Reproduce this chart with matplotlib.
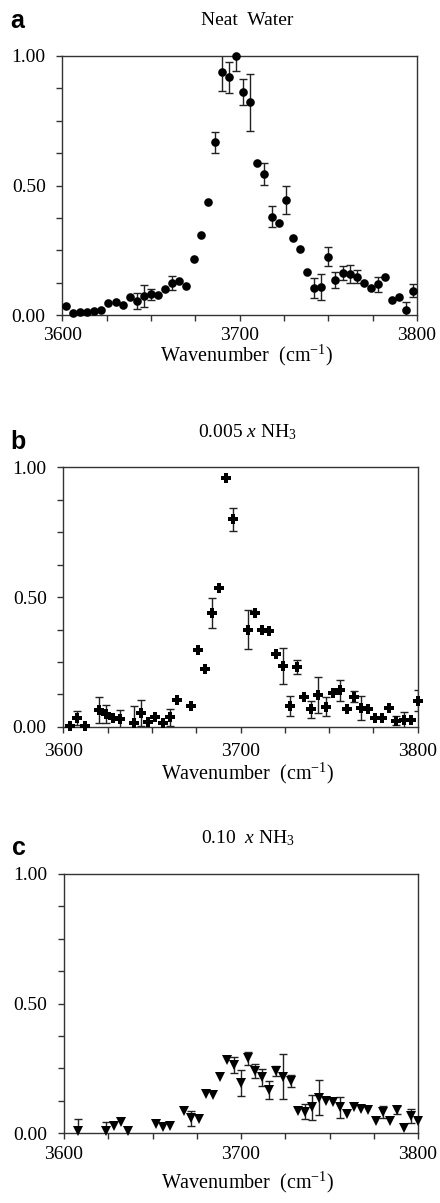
import matplotlib
matplotlib.use("Agg")
import matplotlib.pyplot as plt
import numpy as np
from matplotlib.ticker import FixedLocator, FormatStrFormatter

plt.rcParams['font.family'] = ['Liberation Serif', 'DejaVu Serif']
plt.rcParams['mathtext.fontset'] = 'custom'
plt.rcParams['mathtext.rm'] = 'Liberation Serif'
plt.rcParams['mathtext.it'] = 'Liberation Serif:italic'

# ---------------- data ----------------
# panel a: neat water
x_a = [3602, 3606, 3610, 3614, 3618, 3622, 3626, 3630, 3634, 3638,
       3642, 3646, 3650, 3654, 3658, 3662, 3666, 3670, 3674, 3678,
       3682, 3686, 3690, 3694, 3698, 3702, 3706, 3710, 3714, 3718,
       3722, 3726, 3730, 3734, 3738, 3742, 3746, 3750, 3754, 3758,
       3762, 3766, 3770, 3774, 3778, 3782, 3786, 3790, 3794, 3798]
y_a = [0.035, 0.006, 0.013, 0.013, 0.015, 0.019, 0.045, 0.050, 0.039, 0.070,
       0.055, 0.073, 0.080, 0.077, 0.099, 0.125, 0.133, 0.113, 0.215, 0.309,
       0.435, 0.667, 0.940, 0.918, 1.000, 0.862, 0.821, 0.588, 0.544, 0.380,
       0.356, 0.444, 0.299, 0.255, 0.165, 0.103, 0.107, 0.225, 0.135, 0.163,
       0.158, 0.148, 0.125, 0.106, 0.118, 0.148, 0.058, 0.071, 0.019, 0.093]
e_a = [0, 0, 0, 0, 0, 0, 0, 0, 0, 0,
       0.030, 0.043, 0.022, 0, 0, 0.027, 0, 0, 0, 0,
       0, 0.040, 0.075, 0.060, 0.058, 0.050, 0.110, 0, 0.042, 0.042,
       0, 0.054, 0, 0, 0, 0.039, 0.050, 0.037, 0.030, 0.027,
       0.035, 0.024, 0, 0, 0.030, 0, 0, 0, 0.030, 0.025]

# panel b: 0.005 x NH3
x_b = [3604, 3608, 3612, 3620, 3624, 3628, 3632, 3640, 3644, 3648,
       3652, 3656, 3660, 3664, 3672, 3676, 3680, 3684, 3688, 3692,
       3696, 3704, 3708, 3712, 3716, 3720, 3724, 3728, 3732, 3736,
       3740, 3744, 3748, 3752, 3756, 3760, 3764, 3768, 3772, 3776,
       3780, 3784, 3788, 3792, 3796, 3800]
y_b = [0.003, 0.032, 0.004, 0.064, 0.048, 0.032, 0.028, 0.013, 0.054, 0.018,
       0.039, 0.015, 0.036, 0.103, 0.080, 0.296, 0.222, 0.440, 0.537, 0.958,
       0.800, 0.375, 0.437, 0.373, 0.370, 0.279, 0.235, 0.080, 0.231, 0.116,
       0.067, 0.122, 0.077, 0.129, 0.141, 0.067, 0.116, 0.071, 0.067, 0.032,
       0.032, 0.071, 0.023, 0.026, 0.026, 0.100]
e_b = [0, 0.027, 0, 0.050, 0.035, 0, 0.035, 0.068, 0.050, 0,
       0, 0, 0.032, 0, 0, 0, 0, 0.058, 0, 0,
       0.045, 0.075, 0, 0, 0, 0, 0.070, 0.040, 0.027, 0,
       0.032, 0.068, 0.037, 0, 0.040, 0, 0.020, 0.046, 0, 0,
       0, 0, 0.018, 0.030, 0, 0.040]

# panel c: 0.10 x NH3
x_c = [3608, 3624, 3628, 3632, 3636, 3652, 3656, 3660, 3668, 3672,
       3676, 3680, 3684, 3688, 3692, 3696, 3700, 3704, 3708, 3712,
       3716, 3720, 3724, 3728, 3732, 3736, 3740, 3744, 3748, 3752,
       3756, 3760, 3764, 3768, 3772, 3776, 3780, 3784, 3788, 3792,
       3796, 3800]
y_c = [0.010, 0.009, 0.028, 0.042, 0.010, 0.036, 0.023, 0.030, 0.087, 0.058,
       0.055, 0.150, 0.148, 0.219, 0.283, 0.264, 0.195, 0.289, 0.240, 0.216,
       0.167, 0.240, 0.219, 0.202, 0.087, 0.084, 0.100, 0.138, 0.125, 0.120,
       0.100, 0.075, 0.103, 0.094, 0.090, 0.048, 0.081, 0.048, 0.090, 0.022,
       0.067, 0.049]
e_c = [0.045, 0.035, 0, 0, 0, 0, 0, 0, 0, 0.028,
       0, 0, 0, 0, 0, 0.032, 0.050, 0.024, 0.028, 0.032,
       0.036, 0.018, 0.086, 0.022, 0, 0.030, 0.047, 0.068, 0, 0,
       0.040, 0, 0, 0, 0, 0, 0.023, 0, 0.017, 0,
       0.026, 0]

titles = ["Neat  Water", "0.005 $x$ NH$_3$", "0.10  $x$ NH$_3$"]
letters = ["a", "b", "c"]
xlabel = "Wavenumber  (cm$^{-1}$)"
xticks_major = [3600, 3700, 3800]
xticks_minor = [3625, 3650, 3675, 3725, 3750, 3775]
yticks_major = [0.0, 0.5, 1.0]
yticks_minor = [0.125, 0.25, 0.375, 0.625, 0.75, 0.875]

# ---------------- layout ----------------
W, H = 440, 1203
fig = plt.figure(figsize=(W / 100, H / 100), dpi=100)

def rect(l, r, t, b):
    return [l / W, 1 - b / H, (r - l) / W, (b - t) / H]

panels = [
    dict(rect=rect(62.3, 417.0, 56.0, 315.0), x=x_a, y=y_a, e=e_a,
         marker='o', ms=6.2, pad=5.0, xlab_y=-0.155, let_y=1.135),
    dict(rect=rect(63.3, 417.7, 467.5, 726.7), x=x_b, y=y_b, e=e_b,
         marker='P', ms=6.5, pad=8.0, xlab_y=-0.18, let_y=1.10),
    dict(rect=rect(64.0, 418.0, 874.0, 1133.3), x=x_c, y=y_c, e=e_c,
         marker='v', ms=6.8, pad=5.5, xlab_y=-0.19, let_y=1.10),
]

spine_col = '#333333'
for i, p in enumerate(panels):
    ax = fig.add_axes(p['rect'])
    x = np.array(p['x'], float)
    y = np.array(p['y'], float)
    e = np.array(p['e'], float)
    m = e > 0
    ax.errorbar(x[m], y[m], yerr=e[m], fmt='none', ecolor='#222222',
                elinewidth=1.0, capsize=3.0, capthick=1.0, zorder=2,
                clip_on=True)
    ax.plot(x, y, linestyle='none', marker=p['marker'], ms=p['ms'],
            color='black', mec='black', mew=0.0, zorder=3, clip_on=False)
    ax.set_xlim(3600, 3800)
    ax.set_ylim(0, 1.0)
    ax.xaxis.set_major_locator(FixedLocator(xticks_major))
    ax.xaxis.set_minor_locator(FixedLocator(xticks_minor))
    ax.yaxis.set_major_locator(FixedLocator(yticks_major))
    ax.yaxis.set_minor_locator(FixedLocator(yticks_minor))
    ax.yaxis.set_major_formatter(FormatStrFormatter('%.2f'))
    ax.tick_params(which='both', direction='out', length=4, width=1.0,
                   color=spine_col, top=False, right=False)
    ax.tick_params(axis='x', which='major', labelsize=14, pad=p['pad'])
    ax.tick_params(axis='y', which='major', labelsize=14, pad=8)
    for s in ax.spines.values():
        s.set_color(spine_col)
        s.set_linewidth(1.0)
    ax.set_xlabel(xlabel, fontsize=14.5)
    ax.xaxis.label.set_va('center')
    ax.xaxis.set_label_coords(0.52, p['xlab_y'])
    ax.text(0.52, 1.137, titles[i], transform=ax.transAxes, ha='center',
            va='center', fontsize=14)
    ax.text(-0.128, p['let_y'], letters[i], transform=ax.transAxes,
            ha='center', va='center', fontsize=18, fontweight='bold',
            family=['Liberation Sans', 'DejaVu Sans'])

fig.savefig("out.png", dpi=100)
